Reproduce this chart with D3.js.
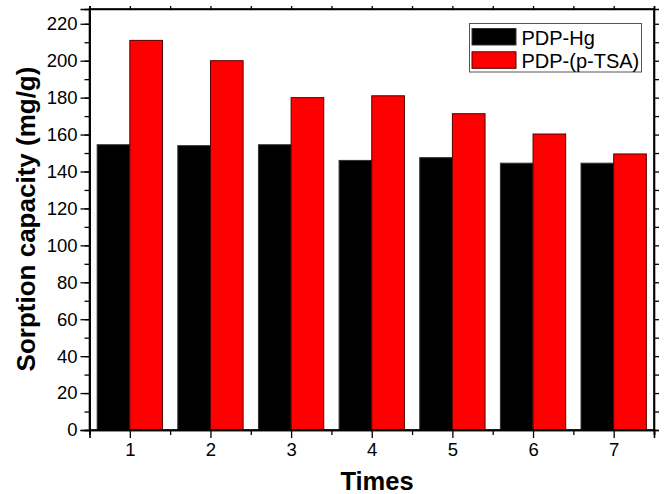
<!DOCTYPE html>
<html>
<head>
<meta charset="utf-8">
<script src="https://cdn.jsdelivr.net/npm/d3@7"></script>
<style>
  html, body { margin: 0; padding: 0; background: #fff; }
  svg { display: block; font-family: Arial, "Liberation Sans", sans-serif; }
</style>
</head>
<body>
<svg id="chart" width="664" height="494"></svg>
<script>
// Sorption capacity over repeated cycles
const times = [1, 2, 3, 4, 5, 6, 7];
const pdpHg = [154.5, 154, 154.5, 146, 147.5, 144.5, 144.5];
const pdpTSA = [211, 200, 180, 181, 171.3, 160.3, 149.5];
const seriesNames = ["PDP-Hg", "PDP-(p-TSA)"];
const seriesColors = ["#000000", "#ff0000"];
const yTicks = [0, 20, 40, 60, 80, 100, 120, 140, 160, 180, 200, 220];

const svg = d3.select("#chart");
const plotL = 89.5, plotR = 654, plotT = 9, plotB = 430;

const x = d3.scaleLinear().domain([0.5, 7.5]).range([plotL, plotR]);
const y = d3.scaleLinear().domain([0, 228]).range([plotB, plotT]);
const barW = 0.405; // in x units

// bars
const series = [pdpHg, pdpTSA];
series.forEach((vals, s) => {
  svg.append("g").selectAll("rect").data(times).join("rect")
    .attr("x", (t) => s === 0 ? x(t - barW) : x(t))
    .attr("width", x(barW) - x(0))
    .attr("y", (t, i) => y(vals[i]))
    .attr("height", (t, i) => y(0) - y(vals[i]))
    .attr("fill", seriesColors[s])
    .attr("stroke", s === 0 ? "#333" : "#500")
    .attr("stroke-width", 1);
});

const minorY = d3.range(0, 229, 10);
const minorX = d3.range(0.5, 7.6, 1);

// left axis
const gl = svg.append("g").attr("transform", `translate(${plotL},0)`);
gl.call(d3.axisLeft(y).tickValues(minorY).tickSize(5).tickFormat(""));
gl.append("g").call(d3.axisLeft(y).tickValues(yTicks).tickSize(9).tickPadding(3).tickFormat(d3.format("d")));

// bottom axis
const gb = svg.append("g").attr("transform", `translate(0,${plotB})`);
gb.call(d3.axisBottom(x).tickValues(minorX).tickSize(5).tickFormat(""));
gb.append("g").call(d3.axisBottom(x).tickValues(times).tickSize(8).tickPadding(5).tickFormat(d3.format("d")));

// right axis
const gr = svg.append("g").attr("transform", `translate(${plotR},0)`);
gr.call(d3.axisRight(y).tickValues(minorY).tickSize(5).tickFormat(""));

// top axis
const gt = svg.append("g").attr("transform", `translate(0,${plotT})`);
gt.call(d3.axisTop(x).tickValues(times.concat(minorX)).tickSize(3).tickFormat(""));

svg.selectAll(".domain").attr("stroke", "#000").attr("stroke-width", 1.6);
svg.selectAll(".tick line").attr("stroke", "#000").attr("stroke-width", 1.3);
svg.selectAll(".tick text").attr("fill", "#000").style("font-size", "18.5px")
  .style("font-family", "Arial, 'Liberation Sans', sans-serif");

// frame
svg.append("rect").attr("x", plotL).attr("y", plotT)
  .attr("width", plotR - plotL).attr("height", plotB - plotT)
  .attr("fill", "none").attr("stroke", "#000").attr("stroke-width", 1.6);

// axis titles
svg.append("text")
  .attr("x", 377).attr("y", 490)
  .attr("text-anchor", "middle")
  .style("font-size", "25.5px").style("font-weight", "bold")
  .text("Times");

svg.append("text")
  .attr("transform", "translate(34.5,219) rotate(-90)")
  .attr("text-anchor", "middle")
  .style("font-size", "26px").style("font-weight", "bold")
  .text("Sorption capacity (mg/g)");

// legend
const lg = svg.append("g");
lg.append("rect").attr("x", 469.5).attr("y", 23.5).attr("width", 172).attr("height", 48.5)
  .attr("fill", "#fff").attr("stroke", "#555").attr("stroke-width", 1);
seriesNames.forEach((name, i) => {
  lg.append("rect")
    .attr("x", 472).attr("y", 28.5 + i * 23.3)
    .attr("width", 44).attr("height", 16.5)
    .attr("fill", seriesColors[i]).attr("stroke", i === 0 ? "#333" : "#500").attr("stroke-width", 1);
  lg.append("text")
    .attr("x", 521.5).attr("y", 44.5 + i * 23.3)
    .style("font-size", "20px")
    .text(name);
});
</script>
</body>
</html>
